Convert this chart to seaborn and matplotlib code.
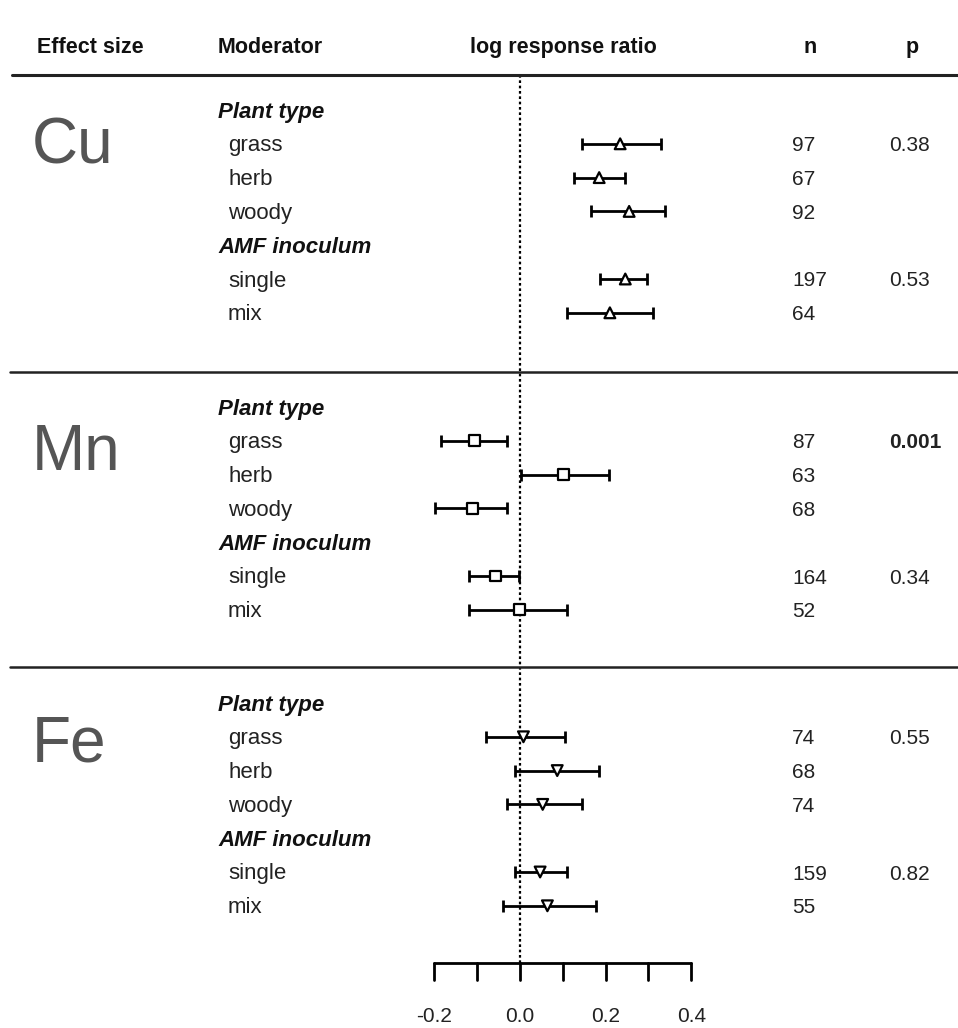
import numpy as np
import pandas as pd
import seaborn as sns
import matplotlib.pyplot as plt

sns.set_style("white")
plt.rcParams['font.family'] = ['Liberation Sans', 'DejaVu Sans']

elements = ['Cu', 'Mn', 'Fe']
moderators = ['grass', 'herb', 'woody', 'single', 'mix']
groups = ['Plant type', 'AMF inoculum']

# log response ratio: mean, lower CI, upper CI (per element, in moderator order)
lrr_mean = {
    'Cu': [0.234, 0.185, 0.255, 0.246, 0.210],
    'Mn': [-0.107, 0.101, -0.111, -0.058, -0.002],
    'Fe': [0.008, 0.087, 0.053, 0.047, 0.064],
}
lrr_low = {
    'Cu': [0.144, 0.127, 0.167, 0.188, 0.109],
    'Mn': [-0.185, 0.002, -0.199, -0.118, -0.118],
    'Fe': [-0.079, -0.011, -0.031, -0.012, -0.040],
}
lrr_high = {
    'Cu': [0.329, 0.245, 0.338, 0.297, 0.311],
    'Mn': [-0.030, 0.207, -0.030, -0.002, 0.109],
    'Fe': [0.104, 0.185, 0.144, 0.109, 0.178],
}
n_obs = {
    'Cu': [97, 67, 92, 197, 64],
    'Mn': [87, 63, 68, 164, 52],
    'Fe': [74, 68, 74, 159, 55],
}
p_vals = {
    'Cu': ['0.38', '0.53'],
    'Mn': ['0.001', '0.34'],
    'Fe': ['0.55', '0.82'],
}
p_bold = {'Cu': [False, False], 'Mn': [True, False], 'Fe': [False, False]}
x_ticks = [-0.2, 0.0, 0.2, 0.4]

# layout (pixel rows)
W, H = 958, 1028
px_per_unit = 428.0
x_zero = 520
section_top = [110, 407, 703]
element_baseline = [163, 470, 761]
row_step = 33.8
# row slot of each moderator inside a section (0 and 4 are group headers)
mod_slot = [1, 2, 3, 5, 6]
group_slot = [0, 4]
base_off = 7.5

rows = []
for i, el in enumerate(elements):
    for j, mod in enumerate(moderators):
        rows.append({'element': el, 'moderator': mod,
                     'y': section_top[i] + mod_slot[j] * row_step,
                     'mean': lrr_mean[el][j], 'low': lrr_low[el][j],
                     'high': lrr_high[el][j], 'n': n_obs[el][j]})
df = pd.DataFrame(rows)

fig = plt.figure(figsize=(W / 100, H / 100), dpi=100)
ax = fig.add_axes([0, 0, 1, 1])
ax.set_xlim(-x_zero / px_per_unit, (W - x_zero) / px_per_unit)
ax.set_ylim(H, 0)
ax.axis('off')

def fx(px):
    return (px - x_zero) / px_per_unit

# dotted zero line
ax.plot([0, 0], [75, 963], color='black', lw=1.6, ls=(0, (1.2, 1.2)), zorder=1)

# error bars
ax.errorbar(df['mean'], df['y'],
            xerr=[df['mean'] - df['low'], df['high'] - df['mean']],
            fmt='none', ecolor='black', elinewidth=2.0, capsize=4.5, capthick=2.0,
            zorder=2)

sns.scatterplot(data=df, x='mean', y='y', style='element',
                markers={'Cu': '^', 'Mn': 's', 'Fe': 'v'},
                color='white', edgecolor='black', linewidth=1.6, s=60,
                legend=False, ax=ax, zorder=3)

# horizontal rules
ax.plot([fx(12), fx(958)], [75, 75], color='#222222', lw=2.2)
for yy in [372, 667]:
    ax.plot([fx(10), fx(958)], [yy, yy], color='#222222', lw=1.8)

# header
hdr_base = 53
hkw = dict(fontsize=15.5, fontweight='bold', va='baseline', color='#111111')
ax.text(fx(37), hdr_base, 'Effect size', ha='left', **hkw)
ax.text(fx(218), hdr_base, 'Moderator', ha='left', **hkw)
ax.text(fx(563), hdr_base, 'log response ratio', ha='center', **hkw)
ax.text(fx(810), hdr_base, 'n', ha='center', **hkw)
ax.text(fx(912), hdr_base, 'p', ha='center', **hkw)

# per-section text
for i, el in enumerate(elements):
    top = section_top[i]
    ax.text(fx(32), element_baseline[i], el, fontsize=46, color='#555555',
            ha='left', va='baseline')
    for k, g in enumerate(groups):
        ax.text(fx(218), top + group_slot[k] * row_step + 8, g, fontsize=16,
                fontweight='bold', fontstyle='italic', ha='left',
                va='baseline', color='#111111')
        ax.text(fx(889), top + mod_slot[0 if k == 0 else 3] * row_step + base_off,
                p_vals[el][k], fontsize=15, ha='left', va='baseline',
                color='#222222',
                fontweight='bold' if p_bold[el][k] else 'normal')
    sub = df[df['element'] == el]
    for _, r in sub.iterrows():
        ax.text(fx(228), r['y'] + base_off, r['moderator'], fontsize=16,
                ha='left', va='baseline', color='#222222')
        ax.text(fx(792), r['y'] + base_off, str(r['n']), fontsize=15,
                ha='left', va='baseline', color='#222222')

# bottom axis
axis_y = 963
ax.plot([x_ticks[0], x_ticks[-1]], [axis_y, axis_y], color='black', lw=2.0)
for t in np.arange(-0.2, 0.41, 0.1):
    ax.plot([t, t], [axis_y, axis_y + 17], color='black', lw=2.0)
for t in x_ticks:
    ax.text(t, 1022, f'{t:.1f}', fontsize=15, ha='center', va='baseline',
            color='#222222')

fig.savefig('out.png', dpi=100)
